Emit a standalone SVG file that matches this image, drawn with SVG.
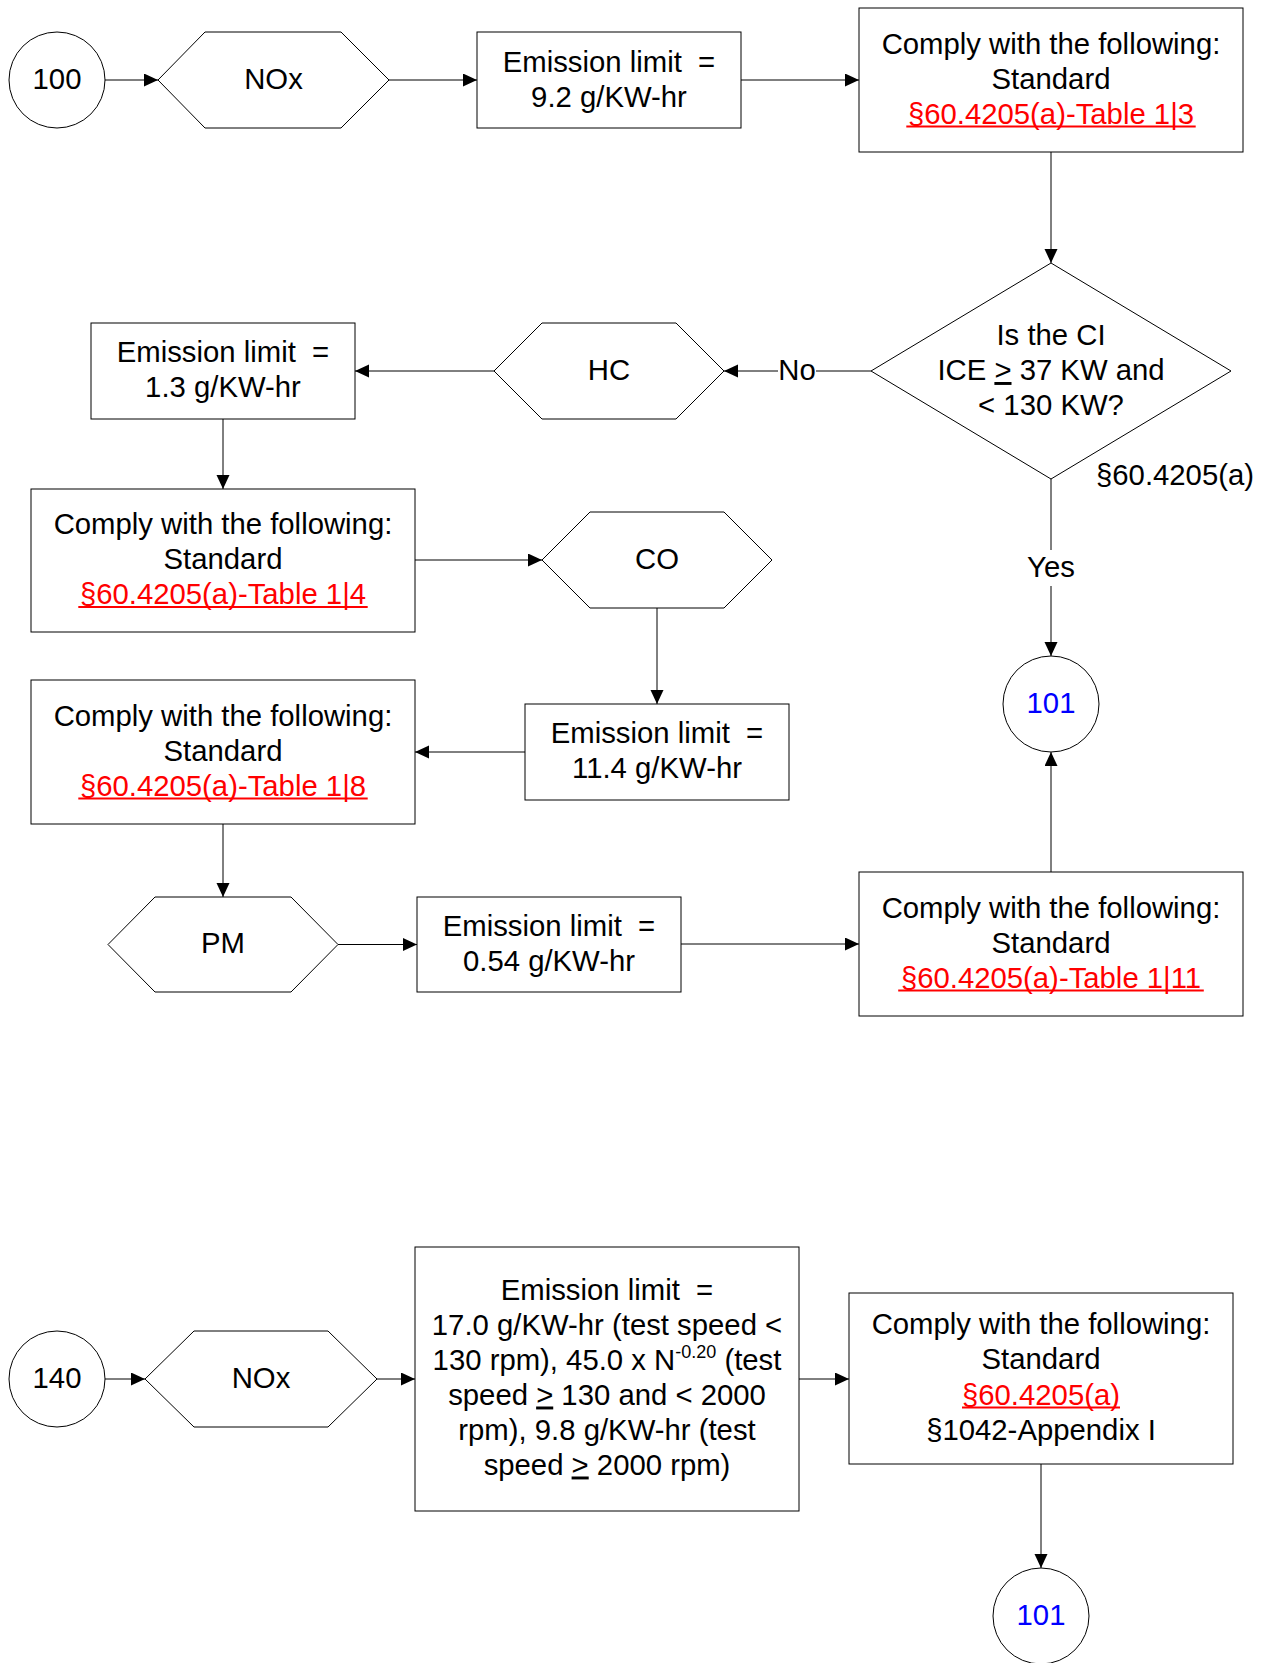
<svg xmlns="http://www.w3.org/2000/svg" width="1261" height="1663" viewBox="0 0 1261 1663">
<defs>
<style>
.s{fill:#fff;stroke:#000;stroke-width:1}
.t{font-family:"Liberation Sans",Arial,sans-serif;font-size:29.3px;fill:#000;text-anchor:middle}
.r{fill:#ff0000}
.ul{stroke:#ff0000;stroke-width:2}
.b{fill:#0000ff}
.c{stroke:#000;stroke-width:1;fill:none;marker-end:url(#ah)}
.u{text-decoration:underline}
</style>
<marker id="ah" markerUnits="userSpaceOnUse" markerWidth="15" markerHeight="14" refX="14" refY="6.5" orient="auto">
<path d="M0,0 L14,6.5 L0,13 Z" fill="#000"/>
</marker>
</defs>
<rect width="1261" height="1663" fill="#fff"/>

<g id="connectors">
<line class="c" x1="105" y1="80" x2="158" y2="80"/>
<line class="c" x1="389" y1="80" x2="477" y2="80"/>
<line class="c" x1="741" y1="80" x2="859" y2="80"/>
<line class="c" x1="1051" y1="152" x2="1051" y2="263"/>
<line class="c" x1="871" y1="371" x2="724" y2="371"/>
<line class="c" x1="494" y1="371" x2="355" y2="371"/>
<line class="c" x1="223" y1="419" x2="223" y2="489"/>
<line class="c" x1="415" y1="560" x2="542" y2="560"/>
<line class="c" x1="657" y1="608" x2="657" y2="704"/>
<line class="c" x1="525" y1="752" x2="415" y2="752"/>
<line class="c" x1="223" y1="824" x2="223" y2="897"/>
<line class="c" x1="338" y1="944.5" x2="417" y2="944.5"/>
<line class="c" x1="681" y1="944" x2="859" y2="944"/>
<line class="c" x1="1051" y1="872" x2="1051" y2="752"/>
<line class="c" x1="1051" y1="479" x2="1051" y2="656"/>
<line class="c" x1="105" y1="1379" x2="145" y2="1379"/>
<line class="c" x1="377" y1="1379" x2="415" y2="1379"/>
<line class="c" x1="799" y1="1379" x2="849" y2="1379"/>
<line class="c" x1="1041" y1="1464" x2="1041" y2="1568"/>
<rect x="778" y="356" width="38" height="30" fill="#fff"/>
<text class="t" x="797" y="380">No</text>
<rect x="1026" y="550" width="50" height="36" fill="#fff"/>
<text class="t" x="1051" y="577">Yes</text>
<text class="t" x="1096" y="485" style="text-anchor:start">§60.4205(a)</text>
</g>

<g id="n100">
<circle class="s" cx="57" cy="80" r="48"/>
<text class="t" x="57" y="88.5">100</text>
</g>
<g id="nox1">
<polygon class="s" points="158,80 205,32 341,32 389,80 341,128 205,128"/>
<text class="t" x="273.5" y="88.5">NOx</text>
</g>
<g id="em1">
<rect class="s" x="477" y="32" width="264" height="96"/>
<text class="t" x="609" y="71.5" xml:space="preserve">Emission limit  =</text>
<text class="t" x="609" y="106.5">9.2 g/KW-hr</text>
</g>
<g id="comply1">
<rect class="s" x="859" y="8" width="384" height="144"/>
<text class="t" x="1051" y="53.5">Comply with the following:</text>
<text class="t" x="1051" y="88.5">Standard</text>
<text class="t r" x="1051" y="123.5">§60.4205(a)-Table 1|3</text>
<line class="ul" x1="906.3" y1="126.5" x2="1195.7" y2="126.5"/>
</g>
<g id="decision">
<polygon class="s" points="1051,263 1231,371 1051,479 871,371"/>
<text class="t" x="1051" y="345">Is the CI</text>
<text class="t" x="1051" y="380">ICE <tspan class="u">&gt;</tspan> 37 KW and</text>
<text class="t" x="1051" y="415">&lt; 130 KW?</text>
</g>
<g id="hc">
<polygon class="s" points="494,371 542,323 676,323 724,371 676,419 542,419"/>
<text class="t" x="609" y="379.5">HC</text>
</g>
<g id="em2">
<rect class="s" x="91" y="323" width="264" height="96"/>
<text class="t" x="223" y="362" xml:space="preserve">Emission limit  =</text>
<text class="t" x="223" y="397">1.3 g/KW-hr</text>
</g>
<g id="comply2">
<rect class="s" x="31" y="489" width="384" height="143"/>
<text class="t" x="223" y="534">Comply with the following:</text>
<text class="t" x="223" y="569">Standard</text>
<text class="t r" x="223" y="604">§60.4205(a)-Table 1|4</text>
<line class="ul" x1="78.3" y1="607" x2="367.7" y2="607"/>
</g>
<g id="co">
<polygon class="s" points="542,560 590,512 724,512 772,560 724,608 590,608"/>
<text class="t" x="657" y="568.5">CO</text>
</g>
<g id="em3">
<rect class="s" x="525" y="704" width="264" height="96"/>
<text class="t" x="657" y="743" xml:space="preserve">Emission limit  =</text>
<text class="t" x="657" y="778">11.4 g/KW-hr</text>
</g>
<g id="comply3">
<rect class="s" x="31" y="680" width="384" height="144"/>
<text class="t" x="223" y="725.5">Comply with the following:</text>
<text class="t" x="223" y="760.5">Standard</text>
<text class="t r" x="223" y="795.5">§60.4205(a)-Table 1|8</text>
<line class="ul" x1="78.3" y1="798.5" x2="367.7" y2="798.5"/>
</g>
<g id="pm">
<polygon class="s" points="108,944.5 155,897 291,897 338,944.5 291,992 155,992"/>
<text class="t" x="223" y="953">PM</text>
</g>
<g id="em4">
<rect class="s" x="417" y="897" width="264" height="95"/>
<text class="t" x="549" y="935.5" xml:space="preserve">Emission limit  =</text>
<text class="t" x="549" y="970.5">0.54 g/KW-hr</text>
</g>
<g id="comply4">
<rect class="s" x="859" y="872" width="384" height="144"/>
<text class="t" x="1051" y="917.5">Comply with the following:</text>
<text class="t" x="1051" y="952.5">Standard</text>
<text class="t r" x="1051" y="987.5">§60.4205(a)-Table 1|11</text>
<line class="ul" x1="898.2" y1="990.5" x2="1203.8" y2="990.5"/>
</g>
<g id="n101a">
<circle class="s" cx="1051" cy="704" r="48"/>
<text class="t b" x="1051" y="712.5">101</text>
</g>

<g id="n140">
<circle class="s" cx="57" cy="1379" r="48"/>
<text class="t" x="57" y="1387.5">140</text>
</g>
<g id="nox2">
<polygon class="s" points="145,1379 194,1331 328,1331 377,1379 328,1427 194,1427"/>
<text class="t" x="261" y="1387.5">NOx</text>
</g>
<g id="em5">
<rect class="s" x="415" y="1247" width="384" height="264"/>
<text class="t" x="607" y="1299.5" xml:space="preserve">Emission limit  =</text>
<text class="t" x="607" y="1334.5">17.0 g/KW-hr (test speed &lt;</text>
<text class="t" x="607" y="1369.5">130 rpm), 45.0 x N<tspan dy="-12" style="font-size:18px">-0.20</tspan><tspan dy="12"> (test</tspan></text>
<text class="t" x="607" y="1404.5">speed <tspan class="u">&gt;</tspan> 130 and &lt; 2000</text>
<text class="t" x="607" y="1439.5">rpm), 9.8 g/KW-hr (test</text>
<text class="t" x="607" y="1474.5">speed <tspan class="u">&gt;</tspan> 2000 rpm)</text>
</g>
<g id="comply5">
<rect class="s" x="849" y="1293" width="384" height="171"/>
<text class="t" x="1041" y="1334">Comply with the following:</text>
<text class="t" x="1041" y="1369">Standard</text>
<text class="t r" x="1041" y="1404.5">§60.4205(a)</text>
<line class="ul" x1="962" y1="1407.5" x2="1120" y2="1407.5"/>
<text class="t" x="1041" y="1439.5">§1042-Appendix I</text>
</g>
<g id="n101b">
<circle class="s" cx="1041" cy="1616" r="48"/>
<text class="t b" x="1041" y="1624.5">101</text>
</g>
</svg>
